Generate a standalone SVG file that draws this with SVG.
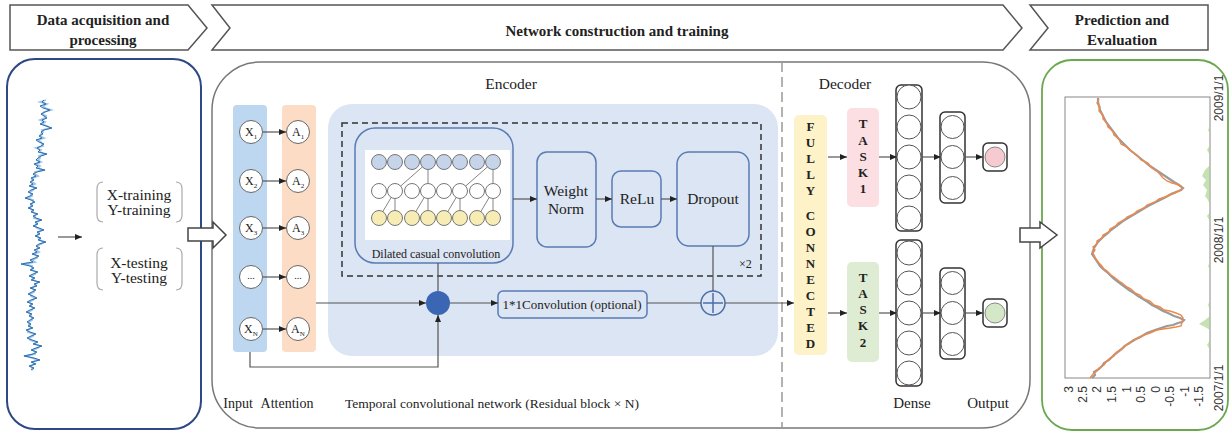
<svg xmlns="http://www.w3.org/2000/svg" width="1231" height="432" viewBox="0 0 1231 432">
<style>
.t{font-family:"Liberation Serif","Times New Roman",serif;fill:#222}
.hb{font-weight:bold;font-size:15px}
.bl{font-weight:bold;font-size:13px;text-anchor:middle}
.c{text-anchor:middle}
.conn{stroke:#555;stroke-width:1.2;fill:none}
.arr{marker-end:url(#ah)}
.blk{fill:#dbe5f3;stroke:#5a7cb4;stroke-width:1.5}
.nd{fill:#fff;stroke:#666;stroke-width:1}
.dn{fill:#fff;stroke:#555;stroke-width:1}
.dbox{fill:#fff;stroke:#333;stroke-width:1.5}
.hdr{fill:#fff;stroke:#555;stroke-width:1.5}
.hollow{fill:#fff;stroke:#444;stroke-width:1.5}
.brk{fill:none;stroke:#aaa;stroke-width:1.2}
.ax{font-family:"Liberation Sans",Arial,sans-serif;font-size:12px;fill:#333}
</style>
<defs>
<marker id="ah" markerWidth="7" markerHeight="6" refX="7" refY="3" orient="auto" markerUnits="userSpaceOnUse"><path d="M0,0 L7,3 L0,6 z" fill="#222"/></marker>
</defs>

<!-- Header -->
<g id="header">
<path class="hdr" d="M10,5 L188,5 L207,28 L188,50 L10,50 Z"/>
<path class="hdr" d="M212,5 L1003,5 L1022,28 L1003,50 L212,50 L230,28 Z"/>
<path class="hdr" d="M1030,5 L1208,5 L1208,50 L1030,50 L1048,28 Z"/>
<text class="t hb c" x="103" y="25">Data acquisition and</text>
<text class="t hb c" x="103" y="45">processing</text>
<text class="t hb c" x="617" y="36">Network construction and training</text>
<text class="t hb c" x="1122" y="25">Prediction and</text>
<text class="t hb c" x="1122" y="45">Evaluation</text>
</g>

<!-- Main panel -->
<g id="main-panel">
<rect x="212" y="62" width="818" height="366" rx="48" fill="#fff" stroke="#777" stroke-width="1.5"/>
<line x1="782" y1="62" x2="782" y2="428" stroke="#999" stroke-width="1.5" stroke-dasharray="10,5"/>
<text class="t c" x="511" y="89" font-size="15.5">Encoder</text>
<text class="t c" x="845" y="89" font-size="15.5">Decoder</text>
</g>

<!-- Left panel -->
<g id="data-panel">
<rect x="7" y="59" width="194" height="370" rx="28" fill="#fff" stroke="#2e4785" stroke-width="2"/>
<polyline fill="none" stroke="#9cc4e8" stroke-width="1.8" points="46,100 40,102 47,104 43,106 45,108 51,110 44,112 42,114 46,116 45,118 40,120 45,122 42,124 47,126 50,128 42,130 43,132 41,134 40,136 44,138 38,140 41,142 42,144 43,146 36,148 41,150 40,152 45,154 39,156 40,158 38,160 41,162 36,164 40,166 38,168 43,170 35,172 35,174 38,176 33,178 32,180 32,182 35,184 31,186 35,188 33,190 30,192 31,194 32,196 27,198 33,200 33,202 32,204 31,206 30,208 32,210 33,212 36,214 35,216 34,218 40,220 37,222 36,224 35,226 37,228 42,230 39,232 38,234 37,236 39,238 40,240 44,242 41,244 37,246 38,248 36,250 39,252 34,254 37,256 37,258 32,260 35,262 24,264 32,266 32,268 32,270 36,272 35,274 31,276 33,278 33,280 38,282 36,284 35,286 32,288 34,290 34,292 30,294 31,296 35,298 33,300 29,302 31,304 31,306 33,308 32,310 28,312 30,314 31,316 32,318 32,320 29,322 29,324 30,326 31,328 28,330 28,332 34,334 33,336 29,338 30,340 36,342 35,344 40,346 38,348 33,350 35,352 35,354 26,356 32,358 38,360 33,362 34,364 31,366 32,368 33,370"/>
<polyline fill="none" stroke="#2c6db0" stroke-width="1" points="44,100 42,102 46,104 40,106 43,108 50,110 45,112 41,114 44,116 47,118 42,120 44,122 40,124 46,126 52,128 44,130 41,132 43,134 39,136 42,138 36,140 39,142 44,144 41,146 37,148 40,150 38,152 47,154 41,156 38,158 36,160 40,162 34,164 38,166 36,168 45,170 37,172 33,174 36,176 31,178 34,180 30,182 33,184 29,186 37,188 31,190 28,192 33,194 30,196 25,198 31,200 35,202 30,204 33,206 28,208 34,210 31,212 38,214 33,216 36,218 42,220 35,222 38,224 33,226 39,228 44,230 37,232 40,234 35,236 41,238 38,240 46,242 39,244 36,246 40,248 34,250 37,252 32,254 39,256 35,258 30,260 33,262 21,264 30,266 34,268 30,270 38,272 33,274 29,276 35,278 31,280 40,282 34,284 37,286 30,288 36,290 32,292 28,294 33,296 37,298 31,300 27,302 33,304 29,306 35,308 30,310 26,312 32,314 29,316 34,318 30,320 27,322 31,324 28,326 33,328 26,330 30,332 36,334 31,336 27,338 32,340 38,342 33,344 42,346 36,348 31,350 37,352 33,354 24,356 34,358 40,360 31,362 36,364 29,366 34,368 31,370"/>
<line class="conn arr" x1="58" y1="237" x2="82" y2="237"/>
<path class="brk" d="M103,182 Q97,182 97,189 L97,215 Q97,222 103,222"/>
<path class="brk" d="M176,182 Q182,182 182,189 L182,215 Q182,222 176,222"/>
<path class="brk" d="M103,248 Q97,248 97,255 L97,283 Q97,290 103,290"/>
<path class="brk" d="M176,248 Q182,248 182,255 L182,283 Q182,290 176,290"/>
<text class="t c" x="139" y="200" font-size="15.5">X-training</text>
<text class="t c" x="139" y="215" font-size="15.5">Y-training</text>
<text class="t c" x="139" y="268" font-size="15.5">X-testing</text>
<text class="t c" x="139" y="283" font-size="15.5">Y-testing</text>
</g>

<!-- Encoder TCN region -->
<g id="tcn-region">
<rect x="328" y="104" width="450" height="252" rx="24" fill="#dbe5f3"/>
<rect x="342" y="123" width="419" height="153" fill="none" stroke="#333" stroke-width="1.5" stroke-dasharray="6,4"/>
<text class="t" x="739" y="268" font-size="12">×2</text>
</g>

<g id="input">
<rect x="233" y="105" width="34" height="247" rx="4" fill="#bcd7ef"/>
<circle class="nd" cx="251" cy="132" r="11.5"/>
<circle class="nd" cx="251" cy="181" r="11.5"/>
<circle class="nd" cx="251" cy="228" r="11.5"/>
<circle class="nd" cx="251" cy="277" r="11.5"/>
<circle class="nd" cx="251" cy="329" r="11.5"/>
<text class="t" x="245" y="136" font-size="12">X<tspan font-size="7" dy="3">1</tspan></text>
<text class="t" x="245" y="185" font-size="12">X<tspan font-size="7" dy="3">2</tspan></text>
<text class="t" x="245" y="232" font-size="12">X<tspan font-size="7" dy="3">3</tspan></text>
<text class="t c" x="251" y="279" font-size="10">...</text>
<text class="t" x="244" y="333" font-size="12">X<tspan font-size="7" dy="3">N</tspan></text>
</g>

<g id="attention">
<rect x="282" y="105" width="34" height="247" rx="4" fill="#fcdcc4"/>
<circle class="nd" cx="298" cy="132" r="11.5"/>
<circle class="nd" cx="298" cy="181" r="11.5"/>
<circle class="nd" cx="298" cy="228" r="11.5"/>
<circle class="nd" cx="298" cy="277" r="11.5"/>
<circle class="nd" cx="298" cy="329" r="11.5"/>
<text class="t" x="292" y="136" font-size="12">A<tspan font-size="7" dy="3">1</tspan></text>
<text class="t" x="292" y="185" font-size="12">A<tspan font-size="7" dy="3">2</tspan></text>
<text class="t" x="292" y="232" font-size="12">A<tspan font-size="7" dy="3">3</tspan></text>
<text class="t c" x="298" y="279" font-size="10">...</text>
<text class="t" x="291" y="333" font-size="12">A<tspan font-size="7" dy="3">N</tspan></text>
</g>

<g id="dilated-conv">
<rect x="355" y="128" width="158" height="135" rx="20" class="blk"/>
<rect x="365" y="150" width="145" height="90" fill="#fff"/>
<g stroke="#777" stroke-width="0.9" fill="none">
<line x1="379" y1="218" x2="395" y2="191"/><line x1="395" y1="191" x2="395" y2="218"/>
<line x1="412" y1="218" x2="428" y2="191"/><line x1="428" y1="191" x2="428" y2="218"/>
<line x1="444" y1="218" x2="460" y2="191"/><line x1="460" y1="191" x2="460" y2="218"/>
<line x1="477" y1="218" x2="493" y2="191"/><line x1="493" y1="191" x2="493" y2="218"/>
<line x1="395" y1="191" x2="428" y2="162"/><line x1="428" y1="162" x2="428" y2="191"/>
<line x1="460" y1="191" x2="493" y2="162"/><line x1="493" y1="162" x2="493" y2="191"/>
</g>
<g stroke="#777" stroke-width="1">
<g fill="#c6d4ea"><circle cx="379" cy="162" r="7.5"/><circle cx="395" cy="162" r="7.5"/><circle cx="412" cy="162" r="7.5"/><circle cx="428" cy="162" r="7.5"/><circle cx="444" cy="162" r="7.5"/><circle cx="460" cy="162" r="7.5"/><circle cx="477" cy="162" r="7.5"/><circle cx="493" cy="162" r="7.5"/></g>
<g fill="#fff"><circle cx="379" cy="191" r="7.5"/><circle cx="395" cy="191" r="7.5"/><circle cx="412" cy="191" r="7.5"/><circle cx="428" cy="191" r="7.5"/><circle cx="444" cy="191" r="7.5"/><circle cx="460" cy="191" r="7.5"/><circle cx="477" cy="191" r="7.5"/><circle cx="493" cy="191" r="7.5"/></g>
<g fill="#f8ecb5"><circle cx="379" cy="218" r="7.5"/><circle cx="395" cy="218" r="7.5"/><circle cx="412" cy="218" r="7.5"/><circle cx="428" cy="218" r="7.5"/><circle cx="444" cy="218" r="7.5"/><circle cx="460" cy="218" r="7.5"/><circle cx="477" cy="218" r="7.5"/><circle cx="493" cy="218" r="7.5"/></g>
</g>
<text class="t c" x="436" y="258" font-size="12">Dilated casual convolution</text>
</g>

<g id="weight-norm">
<rect x="537" y="152" width="59" height="95" rx="10" class="blk"/>
<text class="t c" x="566" y="196" font-size="15.5">Weight</text>
<text class="t c" x="566" y="214" font-size="15.5">Norm</text>
</g>
<g id="relu">
<rect x="612" y="171" width="49" height="56" rx="9" class="blk"/>
<text class="t c" x="637" y="204" font-size="15.5">ReLu</text>
</g>
<g id="dropout">
<rect x="677" y="152" width="72" height="94" rx="12" class="blk"/>
<text class="t c" x="713" y="204" font-size="15.5">Dropout</text>
</g>

<g id="sum-node">
<circle cx="438" cy="303" r="12" fill="#3b66b3"/>
</g>
<g id="conv1x1">
<rect x="498" y="291" width="149" height="27" rx="5" fill="#dbe5f3" stroke="#5a7cb4" stroke-width="1.5"/>
<text class="t c" x="572" y="309" font-size="13">1*1Convolution (optional)</text>
</g>
<g id="plus-node">
<circle cx="713" cy="303" r="12" fill="#dbe5f3" stroke="#4a6ea8" stroke-width="1.5"/>
<line x1="703" y1="303" x2="723" y2="303" stroke="#4a6ea8" stroke-width="1.5"/>
<line x1="713" y1="293" x2="713" y2="313" stroke="#4a6ea8" stroke-width="1.5"/>
</g>

<!-- Decoder -->
<g id="fully-connected">
<rect x="794" y="115" width="33" height="240" rx="5" fill="#fdf2c8"/>
<text class="t bl" x="810.5" y="131">F</text>
<text class="t bl" x="810.5" y="147">U</text>
<text class="t bl" x="810.5" y="163">L</text>
<text class="t bl" x="810.5" y="179">L</text>
<text class="t bl" x="810.5" y="195">Y</text>
<text class="t bl" x="810.5" y="220">C</text>
<text class="t bl" x="810.5" y="236">O</text>
<text class="t bl" x="810.5" y="252">N</text>
<text class="t bl" x="810.5" y="268">N</text>
<text class="t bl" x="810.5" y="284">E</text>
<text class="t bl" x="810.5" y="300">C</text>
<text class="t bl" x="810.5" y="316">T</text>
<text class="t bl" x="810.5" y="332">E</text>
<text class="t bl" x="810.5" y="348">D</text>
</g>
<g id="task1">
<rect x="847" y="108" width="32" height="99" rx="5" fill="#fbdfe2"/>
<text class="t bl" x="863" y="128">T</text>
<text class="t bl" x="863" y="145">A</text>
<text class="t bl" x="863" y="161">S</text>
<text class="t bl" x="863" y="177">K</text>
<text class="t bl" x="863" y="193">1</text>
</g>
<g id="task2">
<rect x="847" y="262" width="32" height="100" rx="5" fill="#deecd4"/>
<text class="t bl" x="863" y="282">T</text>
<text class="t bl" x="863" y="298">A</text>
<text class="t bl" x="863" y="314">S</text>
<text class="t bl" x="863" y="330">K</text>
<text class="t bl" x="863" y="347">2</text>
</g>
<g id="dense1-top">
<rect class="dbox" x="896" y="85" width="26" height="146" rx="5"/>
<circle class="dn" cx="909" cy="97" r="12"/><circle class="dn" cx="909" cy="127" r="12"/><circle class="dn" cx="909" cy="157" r="12"/><circle class="dn" cx="909" cy="187" r="12"/><circle class="dn" cx="909" cy="218" r="12"/>
</g>
<g id="dense1-bottom">
<rect class="dbox" x="896" y="240" width="26" height="146" rx="5"/>
<circle class="dn" cx="909" cy="253" r="12"/><circle class="dn" cx="909" cy="283" r="12"/><circle class="dn" cx="909" cy="313" r="12"/><circle class="dn" cx="909" cy="343" r="12"/><circle class="dn" cx="909" cy="373" r="12"/>
</g>
<g id="dense2-top">
<rect class="dbox" x="940" y="112" width="25" height="91" rx="5"/>
<circle class="dn" cx="952.5" cy="127" r="11.5"/><circle class="dn" cx="952.5" cy="157" r="11.5"/><circle class="dn" cx="952.5" cy="188" r="11.5"/>
</g>
<g id="dense2-bottom">
<rect class="dbox" x="940" y="268" width="25" height="91" rx="5"/>
<circle class="dn" cx="952.5" cy="283" r="11.5"/><circle class="dn" cx="952.5" cy="313" r="11.5"/><circle class="dn" cx="952.5" cy="344" r="11.5"/>
</g>
<g id="output-top">
<rect class="dbox" x="983" y="143" width="24" height="28" rx="5"/>
<circle cx="995" cy="157" r="10" fill="#f7c9d0" stroke="#888" stroke-width="1"/>
</g>
<g id="output-bottom">
<rect class="dbox" x="983" y="299" width="24" height="28" rx="5"/>
<circle cx="995" cy="313" r="10" fill="#d4e8c7" stroke="#888" stroke-width="1"/>
</g>

<!-- Bottom labels -->
<g id="labels">
<text class="t c" x="238" y="408" font-size="14">Input</text>
<text class="t c" x="287" y="408" font-size="14">Attention</text>
<text class="t c" x="492" y="408" font-size="13.5">Temporal convolutional network (Residual block × N)</text>
<text class="t c" x="912" y="408" font-size="15">Dense</text>
<text class="t c" x="988" y="408" font-size="15">Output</text>
</g>

<!-- Right panel -->
<g id="result-panel">
<rect x="1042" y="60" width="186" height="370" rx="30" fill="#fff" stroke="#6aa84f" stroke-width="1.8"/>
<rect x="1065" y="97" width="145" height="281" fill="#fff" stroke="#888" stroke-width="1"/>
<g fill="#a9d38f" opacity="0.65">
<path d="M1210,165 L1205,170 L1202,176 L1206,180 L1203,185 L1207,190 L1205,196 L1208,200 L1210,205 Z"/>
<path d="M1210,145 L1207,150 L1210,155 Z"/>
<path d="M1210,126 L1208,130 L1210,134 Z"/>
<path d="M1210,212 L1207,216 L1210,222 Z"/>
<path d="M1210,316 L1205,320 L1199,324 L1205,327 L1210,330 Z"/>
<path d="M1210,300 L1208,305 L1210,310 Z"/>
<path d="M1210,340 L1207,345 L1210,350 Z"/>
<path d="M1210,262 L1208,266 L1210,270 Z"/>
</g>
<polyline fill="none" stroke="#9a9a9a" stroke-width="2.2" points="1092,378 1095,375 1094,372 1099,369 1102,366 1104,363 1109,360 1112,357 1115,354 1119,351 1123,348 1126,345 1131,342 1136,339 1142,336 1147,333 1155,330 1161,328 1167,326 1173,325 1178,323 1182,322 1184,320 1180,318 1174,316 1168,313 1163,311 1158,308 1152,305 1148,302 1143,299 1138,296 1134,293 1129,290 1125,287 1121,284 1117,281 1113,278 1110,275 1107,272 1103,269 1100,266 1098,263 1096,260 1094,257 1092,254 1093,251 1094,248 1096,245 1098,242 1101,239 1104,236 1108,233 1111,230 1115,227 1119,224 1123,221 1128,218 1133,215 1138,212 1143,209 1148,206 1154,203 1160,200 1166,197 1171,194 1176,192 1181,190 1183,188 1179,185 1174,182 1168,178 1162,174 1156,170 1150,166 1145,162 1140,158 1135,154 1130,150 1126,146 1122,142 1118,138 1115,134 1112,130 1109,126 1106,122 1104,118 1102,114 1100,110 1099,106 1098,102 1098,98"/>
<polyline fill="none" stroke="#f0884a" stroke-width="1.4" points="1090,378 1093,374 1097,371 1099,368 1104,365 1106,362 1110,358 1114,356 1117,352 1121,350 1124,346 1129,344 1133,340 1139,338 1144,335 1150,333 1157,330 1163,329 1170,328 1176,327 1181,326 1182,322 1183,318 1181,315 1176,313 1170,311 1164,310 1160,307 1154,305 1150,301 1144,299 1140,295 1135,293 1131,289 1127,287 1122,283 1119,281 1114,277 1111,275 1107,271 1104,269 1101,265 1099,263 1096,259 1095,257 1093,253 1095,250 1093,247 1097,244 1097,241 1102,238 1103,235 1109,232 1110,229 1116,226 1118,223 1124,220 1127,217 1134,214 1137,211 1144,208 1147,205 1155,202 1159,199 1165,197 1170,195 1175,193 1179,191 1182,189 1181,186 1176,184 1172,183 1167,181 1163,178 1158,172 1152,168 1148,163 1141,160 1137,155 1131,151 1127,147 1121,144 1119,139 1114,135 1113,131 1108,127 1107,123 1103,119 1103,115 1099,111 1100,107 1097,103 1099,99"/>
<g class="ax" text-anchor="end">
<text transform="translate(1073,386) rotate(-90)">3</text>
<text transform="translate(1087,386) rotate(-90)">2.5</text>
<text transform="translate(1101,386) rotate(-90)">2</text>
<text transform="translate(1116,386) rotate(-90)">1.5</text>
<text transform="translate(1131,386) rotate(-90)">1</text>
<text transform="translate(1145,386) rotate(-90)">0.5</text>
<text transform="translate(1160,386) rotate(-90)">0</text>
<text transform="translate(1174,386) rotate(-90)">-0.5</text>
<text transform="translate(1189,386) rotate(-90)">-1</text>
<text transform="translate(1203,386) rotate(-90)">-1.5</text>
</g>
<g class="ax" text-anchor="middle">
<text transform="translate(1223,98) rotate(-90)">2009/1/1</text>
<text transform="translate(1223,240) rotate(-90)">2008/1/1</text>
<text transform="translate(1223,388) rotate(-90)">2007/1/1</text>
</g>
</g>

<!-- Connectors -->
<g id="connectors">
<path class="hollow" d="M188,228 L213,228 L213,222 L226,235 L213,248 L213,241 L188,241 Z"/>
<path class="hollow" d="M1020,228 L1040,228 L1040,222 L1057,235 L1040,248 L1040,242 L1020,242 Z"/>
<line class="conn arr" x1="263" y1="132" x2="286" y2="132"/>
<line class="conn arr" x1="263" y1="181" x2="286" y2="181"/>
<line class="conn arr" x1="263" y1="228" x2="286" y2="228"/>
<line class="conn arr" x1="263" y1="277" x2="286" y2="277"/>
<line class="conn arr" x1="263" y1="329" x2="286" y2="329"/>
<line class="conn arr" x1="513" y1="199" x2="537" y2="199"/>
<line class="conn arr" x1="596" y1="199" x2="612" y2="199"/>
<line class="conn arr" x1="661" y1="199" x2="677" y2="199"/>
<line class="conn" x1="438" y1="263" x2="438" y2="291"/>
<line class="conn arr" x1="316" y1="303" x2="426" y2="303"/>
<path class="conn arr" d="M250,352 L250,367 L438,367 L438,315"/>
<line class="conn arr" x1="450" y1="303" x2="498" y2="303"/>
<line class="conn" x1="647" y1="303" x2="701" y2="303"/>
<line class="conn" x1="713" y1="246" x2="713" y2="291"/>
<line class="conn arr" x1="725" y1="303" x2="794" y2="303"/>
<line class="conn arr" x1="828" y1="157" x2="847" y2="157"/>
<line class="conn arr" x1="828" y1="313" x2="847" y2="313"/>
<line class="conn arr" x1="879" y1="157" x2="897" y2="157"/>
<line class="conn arr" x1="879" y1="313" x2="897" y2="313"/>
<line class="conn arr" x1="922" y1="157" x2="941" y2="157"/>
<line class="conn arr" x1="922" y1="313" x2="941" y2="313"/>
<line class="conn arr" x1="965" y1="157" x2="983" y2="157"/>
<line class="conn arr" x1="965" y1="313" x2="983" y2="313"/>
</g>
</svg>
